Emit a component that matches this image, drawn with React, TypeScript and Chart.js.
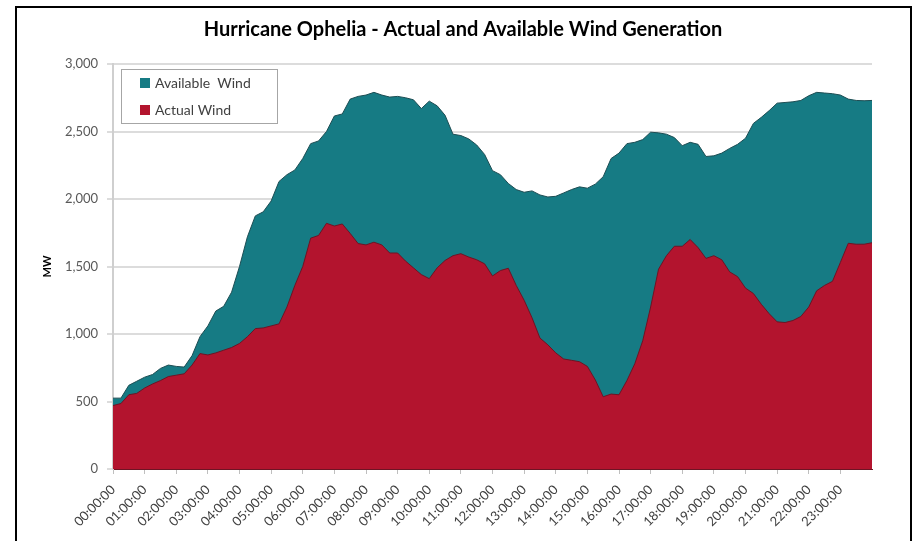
import React, { useEffect, useRef } from "react";
import { Chart, registerables } from "chart.js";

Chart.register(...registerables);

const chartTitle = "Hurricane Ophelia - Actual and Available Wind Generation";
const yAxisTitle = "MW";

const hourLabels = [
  "00:00:00", "01:00:00", "02:00:00", "03:00:00", "04:00:00", "05:00:00",
  "06:00:00", "07:00:00", "08:00:00", "09:00:00", "10:00:00", "11:00:00",
  "12:00:00", "13:00:00", "14:00:00", "15:00:00", "16:00:00", "17:00:00",
  "18:00:00", "19:00:00", "20:00:00", "21:00:00", "22:00:00", "23:00:00",
];

// 15-minute readings from 00:00 to 24:00 (97 slots)
const quarterMinutes = ["00", "15", "30", "45"];
const timeSlots: string[] = [];
for (let h = 0; h < 24; h++) {
  for (const m of quarterMinutes) timeSlots.push(`${String(h).padStart(2, "0")}:${m}:00`);
}
timeSlots.push("24:00:00");

const availableWind = [
  525, 525, 620, 650, 680, 700, 745, 770, 760, 755,
  840, 980, 1060, 1170, 1205, 1310, 1500, 1720, 1875, 1905,
  1985, 2130, 2180, 2215, 2300, 2410, 2430, 2500, 2615, 2630,
  2740, 2760, 2770, 2790, 2770, 2755, 2760, 2750, 2735, 2670,
  2725, 2690, 2620, 2480, 2470, 2445, 2400, 2330, 2210, 2180,
  2115, 2070, 2050, 2060, 2030, 2015, 2020, 2045, 2070, 2090,
  2080, 2110, 2165, 2300, 2340, 2410, 2420, 2440, 2495, 2490,
  2480, 2455, 2395, 2420, 2405, 2315, 2320, 2340, 2375, 2405,
  2450, 2560, 2605, 2655, 2710, 2715, 2720, 2730, 2765, 2790,
  2785, 2780, 2770, 2740, 2730, 2728, 2730,
];

const actualWind = [
  470, 485, 550, 560, 600, 630, 655, 685, 695, 705,
  770, 855, 845, 860, 880, 900, 930, 980, 1040, 1045,
  1060, 1075, 1200, 1360, 1500, 1710, 1730, 1820, 1800, 1815,
  1745, 1670, 1660, 1680, 1660, 1600, 1600, 1540, 1490, 1440,
  1410, 1490, 1545, 1580, 1595, 1570, 1550, 1520, 1430, 1470,
  1487, 1360, 1250, 1120, 970, 920, 860, 815, 805, 795,
  760, 660, 535, 555, 550, 655, 780, 950, 1200, 1480,
  1580, 1650, 1650, 1700, 1640, 1560, 1580, 1550, 1460, 1425,
  1340, 1300, 1220, 1150, 1090, 1085, 1100, 1130, 1200, 1320,
  1360, 1390, 1530, 1672, 1665, 1665, 1676,
];

const FONT = "Lato, 'Open Sans', 'DejaVu Sans', sans-serif";
const TEAL = "#167b84";
const TEAL_EDGE = "#1d4d53";
const RED = "#b3142e";
const RED_EDGE = "#6e1424";

const framePlugin = {
  id: "frame",
  beforeDraw(chart: any) {
    const ctx = chart.ctx;
    ctx.save();
    ctx.fillStyle = "#ffffff";
    ctx.fillRect(0, 0, chart.width, chart.height);
    ctx.strokeStyle = "#000000";
    ctx.lineWidth = 2;
    ctx.strokeRect(16, 7, 895, 600);
    ctx.restore();
  },
};

const insideLegendPlugin = {
  id: "insideLegend",
  afterDraw(chart: any) {
    const { ctx, chartArea } = chart;
    const x = chartArea.left + 8;
    const y = chartArea.top + 5;
    ctx.save();
    ctx.fillStyle = "#ffffff";
    ctx.fillRect(x, y, 156, 54);
    ctx.strokeStyle = "#a6a6a6";
    ctx.lineWidth = 1;
    ctx.strokeRect(x + 0.5, y + 0.5, 156, 54);
    const ds = chart.data.datasets;
    ds.forEach((d: any, i: number) => {
      const cy = y + 14 + i * 27;
      ctx.fillStyle = d.backgroundColor;
      ctx.fillRect(x + 19, cy - 5, 10, 10);
      ctx.fillStyle = "#404040";
      ctx.font = `14px ${FONT}`;
      ctx.textAlign = "left";
      ctx.textBaseline = "middle";
      ctx.fillText(d.label, x + 34, cy);
    });
    ctx.restore();
  },
};

export default function App() {
  const canvasRef = useRef<HTMLCanvasElement | null>(null);

  useEffect(() => {
    if (!canvasRef.current) return;
    const chart = new Chart(canvasRef.current, {
      type: "line",
      data: {
        labels: timeSlots,
        datasets: [
          {
            label: "Available  Wind",
            data: availableWind,
            backgroundColor: TEAL,
            borderColor: TEAL_EDGE,
            borderWidth: 1,
            pointRadius: 0,
            fill: "origin",
            tension: 0,
            order: 1,
          },
          {
            label: "Actual Wind",
            data: actualWind,
            backgroundColor: RED,
            borderColor: RED_EDGE,
            borderWidth: 1,
            pointRadius: 0,
            fill: "origin",
            tension: 0,
            order: 0,
          },
        ],
      },
      options: {
        responsive: false,
        animation: false,
        layout: { padding: { left: 54, right: 42, top: 8, bottom: 0 } },
        plugins: {
          legend: { display: false },
          tooltip: { enabled: false },
          title: {
            display: true,
            text: chartTitle,
            color: "#000000",
            font: { family: FONT, size: 20, weight: "bold" },
            padding: { top: 10, bottom: 22 },
          },
        },
        scales: {
          x: {
            type: "category",
            offset: false,
            grid: { drawOnChartArea: false, drawTicks: true, tickLength: 5, color: "#bfbfbf" },
            border: { display: true, color: RED_EDGE, width: 1 },
            ticks: {
              autoSkip: false,
              minRotation: 45,
              maxRotation: 45,
              padding: 8,
              color: "#404040",
              font: { family: FONT, size: 13 },
              callback: (_v: any, index: number) =>
                index % 4 === 0 && index < 96 ? hourLabels[index / 4] : null,
            },
            afterFit: (scale: any) => {
              scale.height = 72;
            },
          },
          y: {
            min: 0,
            max: 3000,
            ticks: {
              stepSize: 500,
              padding: 9,
              color: "#595959",
              font: { family: FONT, size: 13 },
              callback: (v: any) => Number(v).toLocaleString("en-US"),
            },
            grid: { color: "#dcdcdc", lineWidth: 2, tickLength: 6 },
            border: { display: true, color: "#cfcfcf", width: 2 },
            title: {
              display: true,
              text: yAxisTitle,
              color: "#000000",
              font: { family: FONT, size: 11, weight: "bold" },
              padding: { top: -13, bottom: 0 },
            },
            afterFit: (scale: any) => {
              scale.width = 59;
            },
          },
        },
      },
      plugins: [framePlugin, insideLegendPlugin],
    });
    return () => chart.destroy();
  }, []);

  return (
    <div style={{ position: "absolute", left: 0, top: 0, width: 914, height: 541 }}>
      <canvas ref={canvasRef} width={914} height={541} />
    </div>
  );
}
